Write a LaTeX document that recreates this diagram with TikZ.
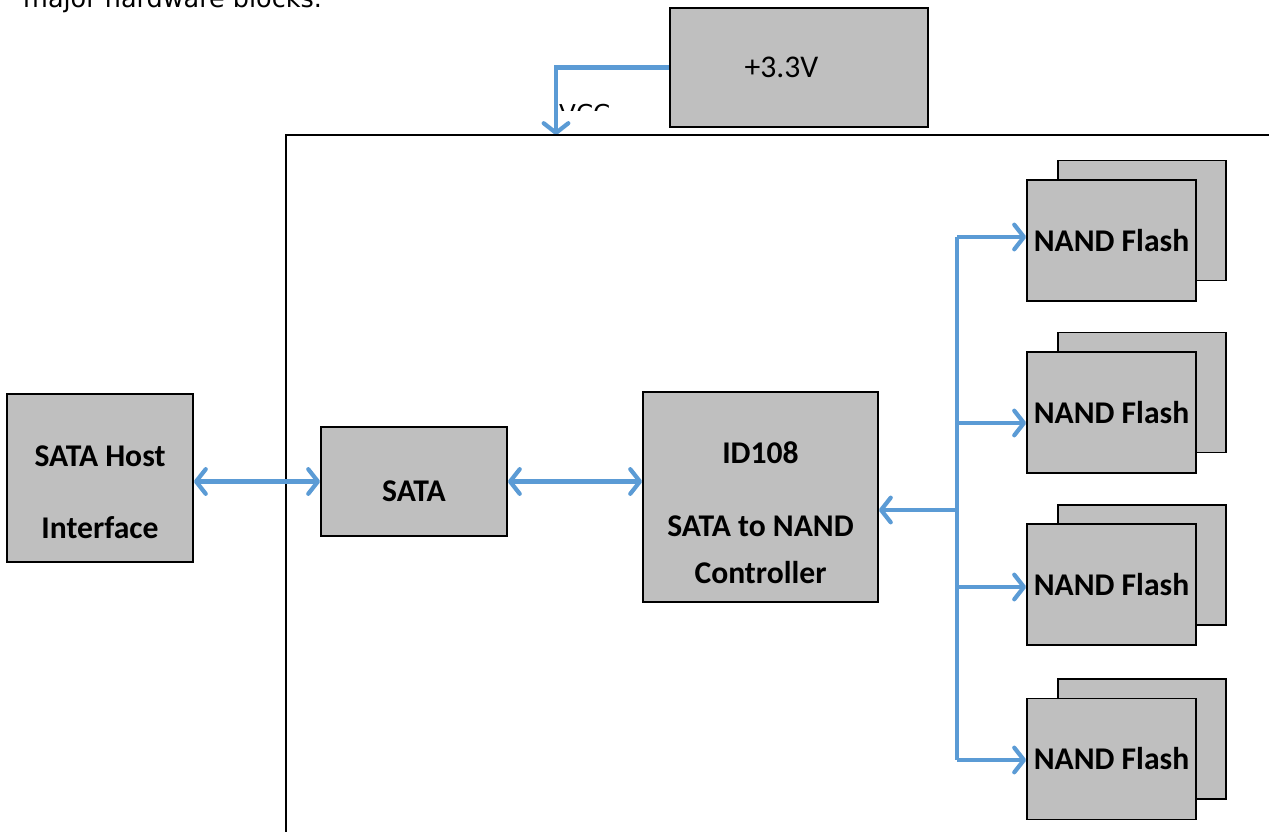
\documentclass[tikz,border=0pt]{standalone}
\usepackage{fontspec}
\setmainfont{DejaVu Sans}
\newfontfamily\boxfont{Carlito}
\usepackage{tikz}
\usetikzlibrary{arrows.meta}
\definecolor{busblue}{HTML}{5B9BD5}
\definecolor{boxgray}{HTML}{BFBFBF}
\tikzstyle{block} = [rectangle, draw=black, line width=1.1pt, fill=boxgray, inner sep=0pt, align=center, font=\boxfont\fontsize{18}{21.6}\selectfont\bfseries]
\tikzstyle{flash} = [block, minimum width=3.38cm, minimum height=2.42cm]
\tikzstyle{flashback} = [block, minimum width=3.36cm, minimum height=2.4cm]
\tikzstyle{arrow} = [line width=2.4pt, draw=busblue, -{Straight Barb[round,length=5.5pt,width=14pt]}]
\tikzstyle{dblarrow} = [line width=2.4pt, draw=busblue, {Straight Barb[round,length=5.5pt,width=14pt]}-{Straight Barb[round,length=5.5pt,width=14pt]}]
\tikzstyle{bus} = [line width=2.4pt, draw=busblue]

\begin{document}
\begin{tikzpicture}[x=0.02cm, y=-0.02cm]
\useasboundingbox (0,0) rectangle (1269,832);
\node (caption) [anchor=base west, font=\fontsize{14.5}{17}\selectfont] at (17,7) {major hardware blocks.};

% supply
\node (vbox) [block, minimum width=5.16cm, minimum height=2.38cm, font=\boxfont\fontsize{18}{21.6}\selectfont] at (799,67.5) {+3.3V\hspace*{20pt}};
\begin{scope}
\clip (540,95) rectangle (620,110);
\node (vcc) [anchor=base west, font=\fontsize{14}{17}\selectfont] at (553,122) {VCC};
\end{scope}
\coordinate (vccin) at (556,135);
\draw [arrow] (vbox.west) -| (vccin);

% board outline
\draw [line width=1.1pt] (286,840) -- (286,135) -- (1275,135);

% blocks
\node (host) [block, minimum width=3.72cm, minimum height=3.36cm] at (100,478) {\rule{0pt}{28pt}SATA Host\\[19pt]Interface};
\node (sata) [block, minimum width=3.72cm, minimum height=2.18cm] at (414,481.5) {\rule{0pt}{22.5pt}SATA};
\node (ctrl) [block, minimum width=4.7cm, minimum height=4.2cm] at (760.5,497) {\rule{0pt}{30.5pt}ID108\\[20pt]SATA to NAND\\[5pt]Controller};

\node (b1) [flashback] at (1142,220.5) {};
\node (f1) [flash] at (1111.5,240.5) {NAND Flash};
\node (b2) [flashback] at (1142,392.5) {};
\node (f2) [flash] at (1111.5,412.5) {NAND Flash};
\node (b3) [flashback] at (1142,565) {};
\node (f3) [flash] at (1111.5,584.5) {NAND Flash};
\node (b4) [flashback] at (1142,739) {};
\node (f4) [flash] at (1111.5,759) {NAND Flash};

% connections
\draw [dblarrow] (sata.west -| host.east) -- (sata.west);
\draw [dblarrow] (sata.east) -- (sata.east -| ctrl.west);

\coordinate (tap1) at (957,237);
\coordinate (tap2) at (957,423);
\coordinate (tap3) at (957,587);
\coordinate (tap4) at (957,760);
\coordinate (tapc) at (957,510);
\draw [bus] (tap1) -- (tap4);
\draw [arrow] (tapc) -- (tapc -| ctrl.east);
\draw [arrow] (tap1) -- (tap1 -| f1.west);
\draw [arrow] (tap2) -- (tap2 -| f2.west);
\draw [arrow] (tap3) -- (tap3 -| f3.west);
\draw [arrow] (tap4) -- (tap4 -| f4.west);
\end{tikzpicture}
\end{document}
